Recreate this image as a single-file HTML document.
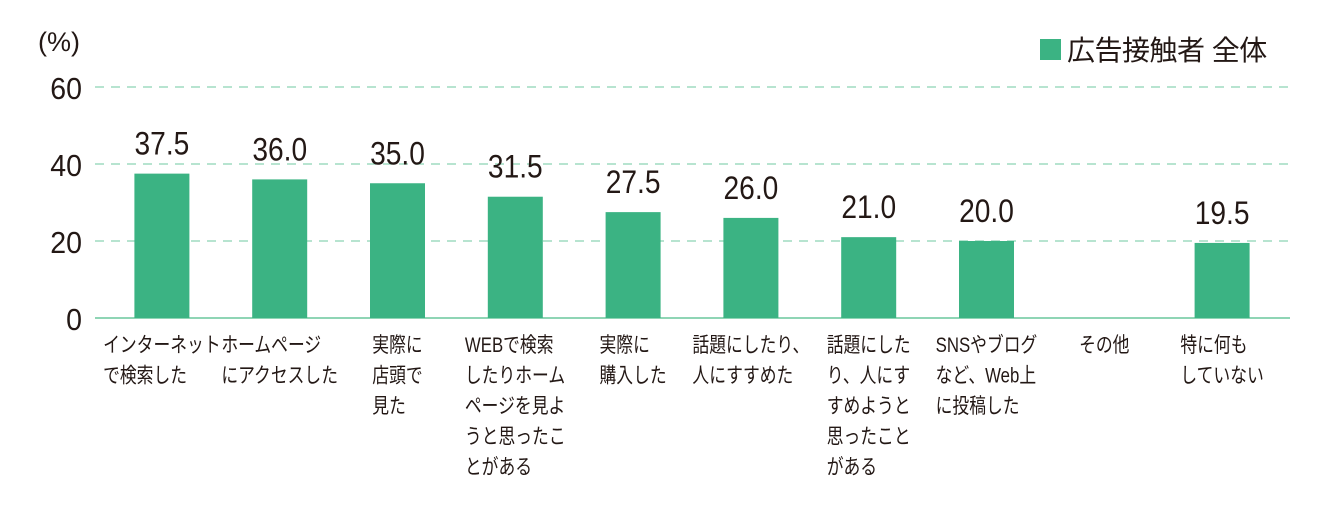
<!DOCTYPE html>
<html><head><meta charset="utf-8"><style>
html,body{margin:0;padding:0;background:#fff;}
svg text{font-family:"Liberation Sans","Noto Sans CJK JP",sans-serif;fill:#231815;}
</style></head><body>
<svg width="1330" height="516" viewBox="0 0 1330 516" xmlns="http://www.w3.org/2000/svg">
<text x="38" y="51" font-size="27">(%)</text>
<rect x="1040" y="39" width="21" height="21" fill="#3bb383"/>
<text x="1067" y="60" font-size="28" letter-spacing="-0.5">広告接触者 全体</text>
<g id="grid"></g><g id="bars"></g><g id="labels"></g>
</svg>
<script>
const categories=[["インターネット","で検索した"],["ホームページ","にアクセスした"],["実際に","店頭で","見た"],["WEBで検索","したりホーム","ページを見よ","うと思ったこ","とがある"],["実際に","購入した"],["話題にしたり、","人にすすめた"],["話題にした","り、人にす","すめようと","思ったこと","がある"],["SNSやブログ","など、Web上","に投稿した"],["その他"],["特に何も","していない"]];
const values=[37.5,36.0,35.0,31.5,27.5,26.0,21.0,20.0,null,19.5];
const ticks=[0,20,40,60];
const NS="http://www.w3.org/2000/svg";
const y0=318,yTop=87,yMax=60,x0=103,step=117.8,bw=55,sx=0.8;
const y=v=>y0-(v/yMax)*(y0-yTop);
const xc=i=>x0+step*(i+0.5);
function mk(t,a,parent){const e=document.createElementNS(NS,t);for(const k in a)e.setAttribute(k,a[k]);parent.appendChild(e);return e;}
const grid=document.getElementById('grid'),bars=document.getElementById('bars'),labels=document.getElementById('labels');
ticks.forEach(t=>{
  const l=mk('line',{x1:95,x2:1290,y1:y(t),y2:y(t),stroke:t===0?'#8fd5b5':'#9fdcc0','stroke-width':t===0?2:1.5,'stroke-dasharray':t===0?'none':'9 7'},grid);
  
  
  const tx=mk('text',{x:0,y:0,'font-size':31,'text-anchor':'end',transform:'translate(82,'+(y(t)+12)+') scale(0.92,1)'},grid);
  tx.textContent=t;
  
  
});
categories.forEach((c,i)=>{
  const v=values[i];
  if(v!==null){
    const r=mk('rect',{x:xc(i)-bw/2,y:y(v),width:bw,height:y0-y(v),fill:'#3bb383'},bars);
    
    
    const vt=mk('text',{x:0,y:0,'font-size':32,'text-anchor':'middle',transform:'translate('+xc(i)+','+(y(v)-19)+') scale(0.88,1)'},labels);
    vt.textContent=v.toFixed(1);
    
    
  }
  const g=mk('text',{'font-size':21,x:0,y:0},labels);
  
  
  c.forEach((line,j)=>{const s=mk('tspan',{x:0,y:352+j*30.5},g);s.textContent=line;});
  let w=0;g.querySelectorAll('tspan').forEach(s=>{w=Math.max(w,s.getComputedTextLength());});
  g.setAttribute('transform','translate('+(xc(i)-w*sx/2)+',0) scale('+sx+',1)');
});
</script>
</body></html>
